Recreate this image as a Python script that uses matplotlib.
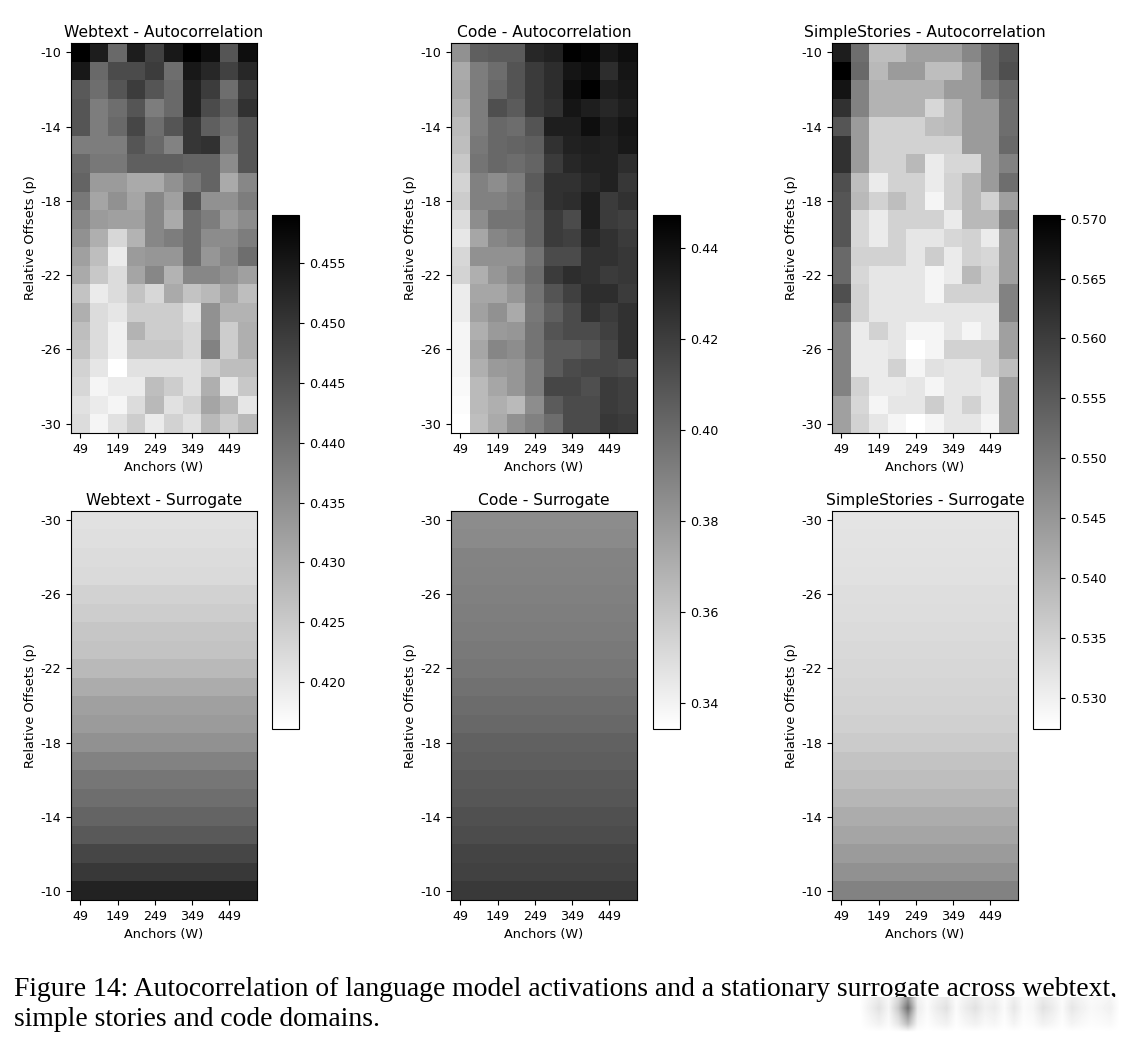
import numpy as np
import matplotlib
matplotlib.use("Agg")
import matplotlib.pyplot as plt
from matplotlib.cm import ScalarMappable
from matplotlib.colors import Normalize

# anchors and offsets
anchors = [49, 99, 149, 199, 249, 299, 349, 399, 449, 499]
offsets = list(range(-10, -31, -1))

webtext_auto = [
    [.4590, .4540, .4414, .4540, .4481, .4548, .4590, .4565, .4447, .4565],
    [.4548, .4414, .4464, .4464, .4489, .4405, .4548, .4523, .4481, .4523],
    [.4439, .4405, .4447, .4489, .4447, .4414, .4531, .4489, .4405, .4489],
    [.4447, .4380, .4405, .4447, .4380, .4414, .4531, .4464, .4430, .4506],
    [.4447, .4380, .4414, .4472, .4405, .4447, .4498, .4430, .4405, .4447],
    [.4380, .4380, .4380, .4447, .4414, .4372, .4498, .4506, .4388, .4447],
    [.4414, .4388, .4388, .4430, .4430, .4430, .4422, .4422, .4355, .4447],
    [.4422, .4330, .4330, .4304, .4304, .4346, .4388, .4422, .4304, .4363],
    [.4388, .4313, .4346, .4313, .4363, .4321, .4447, .4346, .4346, .4380],
    [.4363, .4330, .4321, .4321, .4363, .4304, .4405, .4380, .4330, .4355],
    [.4346, .4296, .4229, .4288, .4363, .4380, .4405, .4355, .4355, .4380],
    [.4321, .4271, .4195, .4330, .4338, .4338, .4405, .4338, .4363, .4405],
    [.4304, .4254, .4220, .4313, .4363, .4288, .4363, .4363, .4346, .4321],
    [.4262, .4195, .4220, .4262, .4229, .4304, .4262, .4279, .4313, .4271],
    [.4296, .4220, .4204, .4246, .4246, .4246, .4212, .4346, .4288, .4288],
    [.4271, .4220, .4187, .4288, .4246, .4246, .4229, .4346, .4246, .4296],
    [.4262, .4220, .4187, .4254, .4254, .4254, .4229, .4372, .4246, .4296],
    [.4237, .4204, .4161, .4212, .4212, .4212, .4212, .4246, .4271, .4271],
    [.4229, .4178, .4195, .4195, .4271, .4246, .4212, .4296, .4204, .4254],
    [.4212, .4195, .4178, .4220, .4279, .4212, .4237, .4313, .4279, .4204],
    [.4220, .4178, .4212, .4246, .4195, .4237, .4212, .4279, .4246, .4279],
]
code_auto = [
    [.383, .405, .407, .407, .430, .432, .447, .445, .436, .441],
    [.372, .392, .399, .410, .421, .427, .438, .441, .427, .438],
    [.374, .392, .401, .410, .421, .427, .441, .447, .434, .436],
    [.370, .392, .412, .407, .421, .425, .438, .434, .430, .434],
    [.365, .392, .401, .399, .410, .434, .434, .441, .434, .438],
    [.363, .394, .401, .403, .405, .425, .432, .434, .432, .436],
    [.359, .396, .401, .399, .403, .421, .430, .432, .432, .427],
    [.354, .390, .385, .392, .407, .425, .425, .430, .432, .423],
    [.357, .390, .390, .394, .405, .425, .427, .434, .421, .425],
    [.350, .385, .396, .396, .403, .421, .414, .434, .421, .419],
    [.345, .374, .388, .392, .403, .421, .419, .430, .425, .421],
    [.352, .383, .383, .383, .396, .414, .414, .425, .425, .423],
    [.354, .370, .381, .388, .399, .421, .427, .425, .421, .423],
    [.343, .374, .374, .381, .396, .410, .419, .427, .427, .421],
    [.343, .376, .383, .372, .394, .405, .414, .425, .421, .425],
    [.339, .370, .379, .381, .396, .410, .414, .414, .419, .425],
    [.339, .374, .388, .385, .396, .407, .407, .410, .416, .425],
    [.339, .370, .379, .381, .392, .407, .414, .416, .416, .414],
    [.337, .365, .374, .381, .392, .416, .416, .412, .421, .419],
    [.336, .365, .370, .365, .385, .407, .414, .414, .421, .419],
    [.334, .363, .372, .383, .390, .399, .414, .414, .423, .421],
]
stories_auto = [
    [.5653, .5518, .5384, .5384, .5434, .5434, .5434, .5476, .5527, .5560],
    [.5703, .5527, .5392, .5443, .5443, .5384, .5384, .5443, .5527, .5569],
    [.5669, .5485, .5401, .5401, .5401, .5401, .5443, .5443, .5493, .5527],
    [.5619, .5485, .5401, .5401, .5401, .5342, .5392, .5443, .5443, .5518],
    [.5560, .5443, .5350, .5350, .5350, .5384, .5392, .5443, .5443, .5518],
    [.5619, .5443, .5350, .5350, .5350, .5350, .5350, .5443, .5443, .5527],
    [.5619, .5443, .5350, .5350, .5392, .5308, .5342, .5342, .5443, .5485],
    [.5569, .5384, .5308, .5350, .5350, .5308, .5350, .5392, .5443, .5518],
    [.5560, .5392, .5350, .5384, .5350, .5291, .5350, .5392, .5350, .5434],
    [.5560, .5342, .5308, .5350, .5350, .5350, .5308, .5392, .5392, .5485],
    [.5560, .5342, .5308, .5350, .5317, .5317, .5342, .5350, .5308, .5434],
    [.5527, .5350, .5350, .5350, .5317, .5359, .5308, .5350, .5342, .5434],
    [.5527, .5342, .5317, .5317, .5317, .5291, .5308, .5392, .5350, .5434],
    [.5569, .5350, .5317, .5317, .5317, .5291, .5350, .5350, .5350, .5485],
    [.5527, .5350, .5317, .5317, .5317, .5317, .5317, .5317, .5317, .5485],
    [.5485, .5308, .5350, .5317, .5291, .5291, .5317, .5291, .5317, .5434],
    [.5485, .5308, .5308, .5317, .5274, .5291, .5350, .5350, .5350, .5434],
    [.5485, .5308, .5308, .5350, .5291, .5325, .5317, .5317, .5350, .5384],
    [.5485, .5350, .5308, .5308, .5317, .5291, .5317, .5317, .5308, .5434],
    [.5434, .5342, .5291, .5317, .5317, .5359, .5317, .5350, .5308, .5434],
    [.5434, .5350, .5317, .5291, .5274, .5291, .5317, .5317, .5291, .5434],
]

# surrogate has one value per offset, offset -30 first
webtext_surr = [.4212, .4215, .4220, .4224, .4237, .4246, .4257, .4262, .4279, .4301, .4321,
                .4330, .4346, .4372, .4392, .4405, .4422, .4439, .4472, .4493, .4531]
code_surr = [.3853, .3862, .3888, .3897, .3906, .3915, .3924, .3933, .3950, .3968, .3995,
             .4012, .4039, .4057, .4074, .4092, .4119, .4136, .4172, .4181, .4216]
stories_surr = [.5320, .5322, .5323, .5325, .5330, .5332, .5335, .5338, .5342, .5345, .5349,
                .5354, .5362, .5374, .5384, .5397, .5414, .5426, .5443, .5459, .5485]

names = ["Webtext", "Code", "SimpleStories"]
auto_data = [webtext_auto, code_auto, stories_auto]
surr_data = [webtext_surr, code_surr, stories_surr]
color_ranges = [(0.4161, 0.4590), (0.3343, 0.4473), (0.5274, 0.5703)]
cbar_ticks = [
    [0.420, 0.425, 0.430, 0.435, 0.440, 0.445, 0.450, 0.455],
    [0.34, 0.36, 0.38, 0.40, 0.42, 0.44],
    [0.530, 0.535, 0.540, 0.545, 0.550, 0.555, 0.560, 0.565, 0.570],
]
cbar_fmt = ["%.3f", "%.2f", "%.3f"]

# the smudge that hides the lower right of the caption, left to right
smudge_gray = [255, 240, 225, 245, 200, 110, 235, 250, 235, 225, 250, 235, 225, 240,
               235, 250, 230, 250, 245, 225, 235, 250, 230, 240, 248, 245, 240, 255]
smudge_fade = [0.75, 1.0, 0.7, 0.45, 0.0]

W, H = 1132, 1044
TICK = 9.2
LABEL = 9.3
TITLE = 11.2

def px_axes(fig, x0, y0, x1, y1):
    # pixel box from the top left of the picture
    return fig.add_axes([x0 / W, 1 - y1 / H, (x1 - x0) / W, (y1 - y0) / H])

def style_heat(ax, title, ylabels):
    ax.set_title(title, fontsize=TITLE, pad=4.5)
    ax.set_xticks(range(0, 10, 2))
    ax.set_xticklabels(anchors[::2], fontsize=TICK)
    ax.set_yticks(range(0, 21, 4))
    ax.set_yticklabels(ylabels, fontsize=TICK)
    ax.set_xlabel("Anchors (W)", fontsize=LABEL, labelpad=3.5)
    ax.set_ylabel("Relative Offsets (p)", fontsize=LABEL, labelpad=2.5)

fig = plt.figure(figsize=(W / 100, H / 100), dpi=100)

col_x = [(71, 257), (451, 637), (832, 1018)]
cbar_x = [(272, 299), (653, 680), (1033, 1060)]

for i, name in enumerate(names):
    vmin, vmax = color_ranges[i]
    norm = Normalize(vmin=vmin, vmax=vmax)

    ax_top = px_axes(fig, col_x[i][0], 43, col_x[i][1], 433)
    ax_top.imshow(np.array(auto_data[i]), cmap="gray_r", norm=norm, aspect="auto", interpolation="nearest")
    style_heat(ax_top, f"{name} - Autocorrelation", offsets[::4])

    surr = np.repeat(np.array(surr_data[i])[:, None], len(anchors), axis=1)
    ax_bot = px_axes(fig, col_x[i][0], 511, col_x[i][1], 900)
    ax_bot.imshow(surr, cmap="gray_r", norm=norm, aspect="auto", interpolation="nearest")
    style_heat(ax_bot, f"{name} - Surrogate", offsets[::-1][::4])

    cax = px_axes(fig, cbar_x[i][0], 215, cbar_x[i][1], 729)
    cb = fig.colorbar(ScalarMappable(norm=norm, cmap="gray_r"), cax=cax)
    cb.set_ticks(cbar_ticks[i])
    cb.ax.set_yticklabels([cbar_fmt[i] % t for t in cbar_ticks[i]], fontsize=TICK)

# caption
caption_lines = [
    "Figure 14: Autocorrelation of language model activations and a stationary surrogate across webtext,",
    "simple stories and code domains.",
]
fig.text(14 / W, 1 - 989 / H, caption_lines[0], family="Liberation Serif", fontsize=19.9, va="center", ha="left")
fig.text(14 / W, 1 - 1020 / H, caption_lines[1], family="Liberation Serif", fontsize=19.9, va="center", ha="left")

# smudge sits over the caption
ax_sm = px_axes(fig, 855, 997, 1125, 1036)
smudge = 255 - np.outer(smudge_fade, 255 - np.array(smudge_gray))
ax_sm.imshow(smudge, cmap="gray", vmin=0, vmax=255, aspect="auto", interpolation="bilinear")
ax_sm.axis("off")
ax_sm.set_zorder(5)

fig.savefig("out.png", dpi=100)
